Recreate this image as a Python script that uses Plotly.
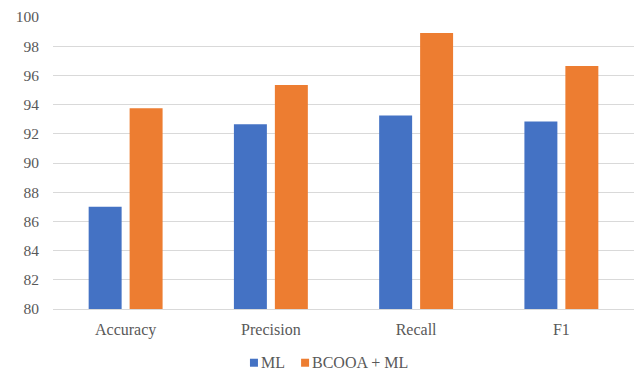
import plotly.graph_objects as go

# Metric categories and scores for each method
categories = ["Accuracy", "Precision", "Recall", "F1"]
ml_scores = [87.0, 92.65, 93.25, 92.85]
bcooa_scores = [93.75, 95.35, 98.9, 96.65]
series_names = ["ML", "BCOOA + ML"]
series_colors = ["#4472C4", "#ED7D31"]
y_ticks = [80, 82, 84, 86, 88, 90, 92, 94, 96, 98, 100]

FONT = "Liberation Serif"
TEXT_COLOR = "#595959"
GRID_COLOR = "#D9D9D9"

fig = go.Figure()
for name, values, color in zip(series_names, [ml_scores, bcooa_scores], series_colors):
    fig.add_trace(go.Bar(
        x=categories,
        y=values,
        name=name,
        marker=dict(color=color, line=dict(width=0)),
        showlegend=False,
    ))

# Compact legend below the axis: small squares with labels right next to them
legend_y = -0.184
legend_items_x = [0.339, 0.427]  # paper x of each square's left edge
sq_w = 8 / 581
sq_h = 8 / 292
for name, color, lx in zip(series_names, series_colors, legend_items_x):
    fig.add_shape(
        type="rect", xref="paper", yref="paper",
        x0=lx, x1=lx + sq_w, y0=legend_y - sq_h / 2, y1=legend_y + sq_h / 2,
        fillcolor=color, line=dict(width=0),
    )
    fig.add_annotation(
        xref="paper", yref="paper", x=lx + sq_w + 1 / 581, y=legend_y,
        text=name, showarrow=False, xanchor="left", yanchor="middle",
        font=dict(family=FONT, size=16, color=TEXT_COLOR),
    )

fig.update_layout(
    width=636,
    height=372,
    margin=dict(l=53, r=2, t=17, b=63),
    paper_bgcolor="white",
    plot_bgcolor="white",
    barmode="group",
    bargap=0.436,
    bargroupgap=0.195,
    font=dict(family=FONT, size=16, color=TEXT_COLOR),
    xaxis=dict(
        showgrid=False,
        showline=True,
        linecolor=GRID_COLOR,
        linewidth=1,
        ticks="",
        ticklabelstandoff=6,
        tickfont=dict(family=FONT, size=16, color=TEXT_COLOR),
    ),
    yaxis=dict(
        range=[80, 100],
        tickvals=y_ticks,
        showgrid=True,
        gridcolor=GRID_COLOR,
        gridwidth=1,
        zeroline=False,
        showline=False,
        ticks="",
        ticklabelstandoff=13,
        tickfont=dict(family=FONT, size=15.5, color=TEXT_COLOR),
    ),
)

fig.write_html("out.html")
